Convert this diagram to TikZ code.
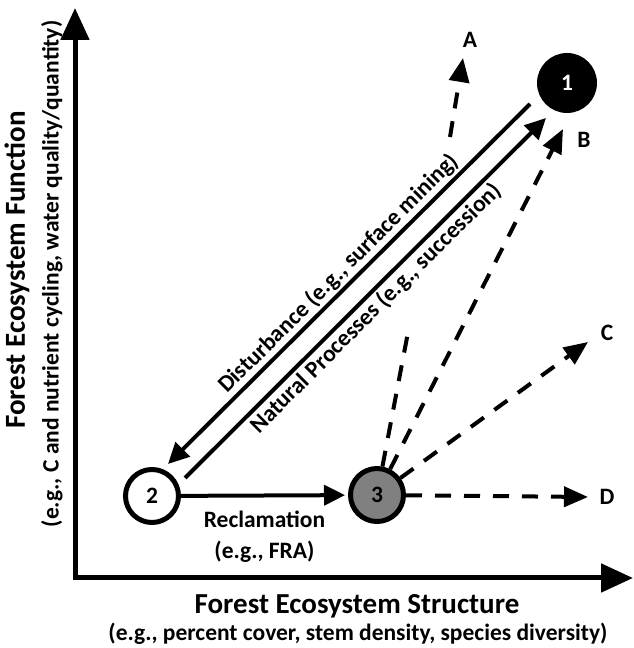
\documentclass[tikz,border=0pt]{standalone}
\usepackage{fontspec}
\setmainfont{Carlito}
\usetikzlibrary{arrows.meta}

\begin{document}
\begin{tikzpicture}[x=1pt, y=1pt,
        >={Triangle[length=21pt, width=20pt]},
        every node/.style={font=\bfseries\fontsize{23.5}{31}\selectfont},
        title/.style={font=\bfseries\fontsize{29}{32}\selectfont},
        stage/.style={circle, draw, line width=5pt, minimum size=53pt, inner sep=0pt},
        process/.style={->, line width=4pt},
        trend/.style={line width=4pt, dash pattern=on 16pt off 13pt, >={Triangle[length=24pt, width=20pt]}},
        axis/.style={{Triangle[length=32pt, width=28pt]}-{Triangle[length=32pt, width=28pt]}, line width=5pt, line join=miter}]
        \useasboundingbox (0, 0) rectangle (634, 648);

        % axes
        \coordinate (o) at (75, 70);
        \coordinate (ytip) at (75, 640);
        \coordinate (xtip) at (633, 70);
        \draw[axis] (ytip) -- (o) -- (xtip);
        \node[title, rotate=90] at (17, 378)(ytitle){Forest Ecosystem Function};
        \node[rotate=90] at (52, 374)(ysub){(e.g., C and nutrient cycling, water quality/quantity)};
        \node[title] at (357, 42)(xtitle){Forest Ecosystem Structure};
        \node at (358, 14)(xsub){(e.g., percent cover, stem density, species diversity)};

        % stages
        \node[stage, fill=black, text=white, line width=4pt, minimum size=56pt] at (567, 565)(s1){1};
        \node[stage] at (152, 152)(s2){2};
        \node[stage, fill=gray] at (377, 153)(s3){3};

        % trajectory end points
        \node at (470, 608)(A){A};
        \node at (584, 508)(B){B};
        \node at (607, 315)(C){C};
        \node at (607, 151)(D){D};
        \coordinate (tA) at (463, 590);
        \coordinate (a1) at (409, 321);
        \coordinate (a2) at (450, 511);
        \coordinate (tB) at (563, 519);
        \coordinate (tC) at (588, 306);
        \coordinate (tD) at (588, 151);

        \path[process]
        ([shift={(-37, -21)}]s1.center)edge node[sloped, above, inner sep=2pt]{Disturbance (e.g., surface mining)}([shift={(16, 32)}]s2.center)
        ([shift={(33, 18)}]s2.center)edge node[sloped, below, inner sep=2pt]{Natural Processes (e.g., succession)}([shift={(-21, -35)}]s1.center)
        (s2)edge [shorten >=3pt] node[below=10pt, align=center]{Reclamation\\(e.g., FRA)}(s3)
        ;

        \path[trend]
        (s3)edge (a1)
        (a2)edge [->] (tA)
        (s3)edge [->] (tB)
        (s3)edge [->] (tC)
        (s3)edge [->] (tD)
        ;
    \end{tikzpicture}
\end{document}
